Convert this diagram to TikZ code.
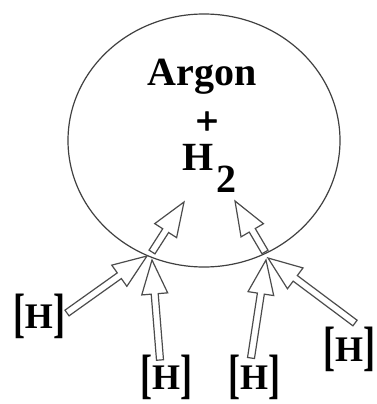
\documentclass[tikz,border=0pt]{standalone}
\usepackage{fontspec}
\setmainfont{Liberation Serif}
\newfontfamily\heavyserif{Liberation Serif Bold}[FakeBold=1.6]
\usepackage{tikz}
\usetikzlibrary{calc, shapes.geometric}

\newcommand{\tallbr}[1]{\raisebox{-3pt}{\scalebox{1}[1.5]{#1}}}
\newcommand{\hatomtext}{\tallbr{[}H\tallbr{]}}
\newcommand{\hollowarrow}[2]{%
    \draw[hollow] ($(#1)!3.5pt!90:(#2)$)
        -- ($(#2)!34pt!(#1)!3.5pt!90:(#2)$)
        -- ($(#2)!34pt!(#1)!13pt!90:(#2)$)
        -- (#2)
        -- ($(#2)!34pt!(#1)!13pt!-90:(#2)$)
        -- ($(#2)!34pt!(#1)!3.5pt!-90:(#2)$)
        -- ($(#1)!3.5pt!-90:(#2)$) -- cycle;%
}

\begin{document}
\begin{tikzpicture}[x=1pt, y=-1pt,
    gasball/.style={draw=black!75, line width=1.2pt, ellipse, minimum width=272pt, minimum height=253pt},
    gastext/.style={inner sep=0pt, font=\bfseries\fontsize{40}{48}\selectfont},
    hatom/.style={inner sep=0pt, anchor=base, font=\bfseries\fontsize{36}{42}\selectfont},
    hollow/.style={draw=black!70, line width=1.2pt, line join=miter}]
    \path[use as bounding box, fill=white] (0,0) rectangle (376,404);
    \node[gasball] (gas) at (204,140.5) {};
    \node[gastext, anchor=base] (argon) at (202,85) {Argon};
    \node[gastext, font=\heavyserif\fontsize{40}{48}\selectfont] (plus) at (207,123) {+};
    \node[gastext, anchor=base west] (htwo) at (182,170) {H\kern3pt\raisebox{-22pt}{2}};
    \node[hatom] (hL) at (39,328) {\hatomtext};
    \node[hatom] (hBL) at (166,389) {\hatomtext};
    \node[hatom] (hBR) at (254,389) {\hatomtext};
    \node[hatom] (hR) at (349,361) {\hatomtext};
    \coordinate (fromL) at (67,313);
    \coordinate (fromBL) at (160,360);
    \coordinate (fromBR) at (251,358);
    \coordinate (fromR) at (355,323);
    \coordinate (hitL) at (147,256);
    \coordinate (hitBL) at (152,260);
    \coordinate (hitBR) at (266,260);
    \coordinate (hitR) at (268,258);
    \coordinate (inL) at (152,252);
    \coordinate (inR) at (265,252);
    \coordinate (upL) at (184,202);
    \coordinate (upR) at (235,201);
    \hollowarrow{fromL}{hitL}
    \hollowarrow{fromBL}{hitBL}
    \hollowarrow{fromBR}{hitBR}
    \hollowarrow{fromR}{hitR}
    \hollowarrow{inL}{upL}
    \hollowarrow{inR}{upR}
\end{tikzpicture}
\end{document}
